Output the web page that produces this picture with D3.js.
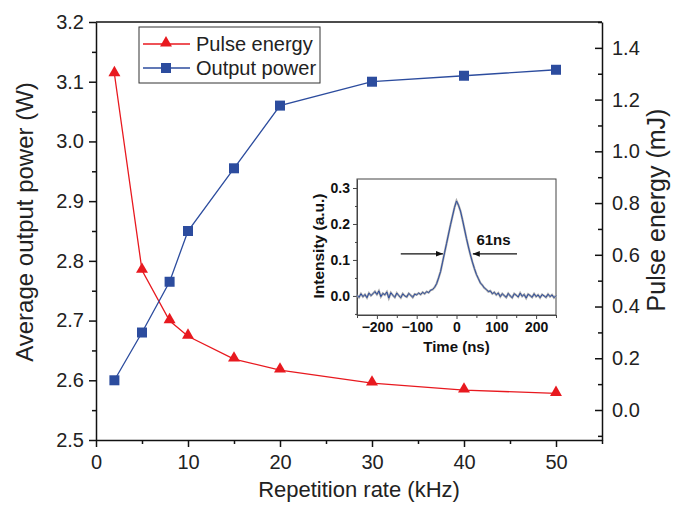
<!DOCTYPE html>
<html>
<head>
<meta charset="utf-8">
<script src="https://cdn.jsdelivr.net/npm/d3@7"></script>
<style>
	body { margin: 0; background: #fff; }
	svg { display: block; font-family: "Liberation Sans", Arial, sans-serif; }
</style>
</head>
<body>
<svg id="graphic" width="674" height="505"></svg>
<script>
// main chart data
var repRate = [2, 5, 8, 10, 15, 20, 30, 40, 50]; // kHz
var outputPower = [2.60, 2.68, 2.765, 2.85, 2.955, 3.06, 3.10, 3.11, 3.12]; // W
var pulseEnergy = [1.30, 0.54, 0.345, 0.285, 0.197, 0.154, 0.104, 0.077, 0.064]; // mJ

var xTicks = [0, 10, 20, 30, 40, 50];
var xMinor = [5, 15, 25, 35, 45, 55];
var leftTicks = [2.5, 2.6, 2.7, 2.8, 2.9, 3.0, 3.1, 3.2];
var leftMinor = [2.55, 2.65, 2.75, 2.85, 2.95, 3.05, 3.15];
var rightTicks = [0.0, 0.2, 0.4, 0.6, 0.8, 1.0, 1.2, 1.4];
var rightMinor = [-0.1, 0.1, 0.3, 0.5, 0.7, 0.9, 1.1, 1.3, 1.5];

// inset: pulse trace
var pulseTime = [-250, -245, -240, -235, -230, -225, -220, -215, -210, -205,
	-200, -195, -190, -185, -180, -175, -170, -165, -160, -155,
	-150, -145, -140, -135, -130, -125, -120, -115, -110, -105,
	-100, -95, -90, -85, -80, -75, -70, -65, -60, -55,
	-50, -45, -40, -35, -30, -25, -20, -15, -10, -5,
	0, 5, 10, 15, 20, 25, 30, 35, 40, 45,
	50, 55, 60, 65, 70, 75, 80, 85, 90, 95,
	100, 105, 110, 115, 120, 125, 130, 135, 140, 145,
	150, 155, 160, 165, 170, 175, 180, 185, 190, 195,
	200, 205, 210, 215, 220, 225, 230, 235, 240, 245, 250];
var pulseIntensity = [0.002, -0.004, 0.006, -0.002, 0.004, -0.005, 0.008, 0.001, 0.006, 0.012,
	0.004, 0.014, -0.002, 0.007, 0.003, 0.011, -0.006, 0.009, 0.002, -0.004,
	0.008, 0.001, -0.005, 0.006, 0.000, -0.003, 0.007, 0.002, -0.004, 0.005,
	0.003, 0.008, 0.004, 0.010, 0.006, 0.012, 0.009, 0.016, 0.018, 0.024,
	0.034, 0.050, 0.068, 0.094, 0.120, 0.146, 0.172, 0.198, 0.222, 0.246,
	0.264, 0.252, 0.236, 0.212, 0.186, 0.160, 0.136, 0.114, 0.094, 0.076,
	0.060, 0.048, 0.036, 0.030, 0.022, 0.018, 0.012, 0.014, 0.006, 0.010,
	0.003, 0.008, -0.002, 0.006, 0.001, -0.004, 0.007, 0.000, -0.005, 0.006,
	0.002, -0.003, 0.008, -0.001, 0.004, -0.006, 0.005, 0.001, -0.004, 0.006,
	-0.002, 0.003, -0.005, 0.004, 0.000, -0.004, 0.005, -0.002, 0.003, -0.005, 0.001];
var insetXTicks = [-200, -100, 0, 100, 200];
var insetXMinor = [-250, -150, -50, 50, 150, 250];
var insetYTicks = [0.0, 0.1, 0.2, 0.3];
var insetYMinor = [-0.05, 0.05, 0.15, 0.25];

var RED = "#e8191f";
var BLUE = "#2c4c9e";

var svg = d3.select("svg");

var plot = { left: 96, right: 602, top: 22, bottom: 440 };

var x = d3.scaleLinear().domain([0, 55]).range([plot.left, plot.right]);
var yL = d3.scaleLinear().domain([2.5, 3.2]).range([plot.bottom, plot.top]);
var yR = d3.scaleLinear().domain([-0.116, 1.5]).range([plot.bottom, plot.top]);

function styleAxis(g, fs) {
	g.selectAll("path.domain").attr("stroke", "#111").attr("stroke-width", 1.5);
	g.selectAll(".tick line").attr("stroke", "#111").attr("stroke-width", 1.5);
	g.selectAll(".tick text").attr("fill", "#222").attr("font-size", fs);
	g.attr("font-family", null);
}

// top frame line
svg.append("line")
	.attr("x1", plot.left).attr("x2", plot.right)
	.attr("y1", plot.top).attr("y2", plot.top)
	.attr("stroke", "#111").attr("stroke-width", 1.5);

// bottom axis
var gx = svg.append("g").attr("transform", "translate(0," + plot.bottom + ")")
	.call(d3.axisBottom(x).tickValues(xTicks).tickSize(7).tickSizeOuter(0).tickPadding(8).tickFormat(d3.format("d")));
styleAxis(gx, 20);
var gxm = svg.append("g").attr("transform", "translate(0," + plot.bottom + ")")
	.call(d3.axisBottom(x).tickValues(xMinor).tickSize(4).tickSizeOuter(0).tickFormat(""));
styleAxis(gxm, 20);
gxm.select("path.domain").remove();

// left axis
var gl = svg.append("g").attr("transform", "translate(" + plot.left + ",0)")
	.call(d3.axisLeft(yL).tickValues(leftTicks).tickSize(7).tickSizeOuter(0).tickPadding(5).tickFormat(d3.format(".1f")));
styleAxis(gl, 20);
var glm = svg.append("g").attr("transform", "translate(" + plot.left + ",0)")
	.call(d3.axisLeft(yL).tickValues(leftMinor).tickSize(4).tickSizeOuter(0).tickFormat(""));
styleAxis(glm, 20);
glm.select("path.domain").remove();

// right axis, ticks point inward
var gr = svg.append("g").attr("transform", "translate(" + plot.right + ",0)")
	.call(d3.axisRight(yR).tickValues(rightTicks).tickSize(-7).tickSizeOuter(0).tickPadding(10).tickFormat(d3.format(".1f")));
styleAxis(gr, 20);
var grm = svg.append("g").attr("transform", "translate(" + plot.right + ",0)")
	.call(d3.axisRight(yR).tickValues(rightMinor).tickSize(-4).tickSizeOuter(0).tickFormat(""));
styleAxis(grm, 20);
grm.select("path.domain").remove();

// axis titles
svg.append("text")
	.attr("transform", "translate(25,222) rotate(-90)")
	.attr("text-anchor", "middle").attr("dy", "0.35em")
	.attr("font-size", 24).attr("fill", "#222")
	.text("Average output power (W)");

svg.append("text")
	.attr("transform", "translate(656,210) rotate(-90)")
	.attr("text-anchor", "middle").attr("dy", "0.35em")
	.attr("font-size", 25).attr("fill", "#222")
	.text("Pulse energy (mJ)");

svg.append("text")
	.attr("x", 359).attr("y", 497)
	.attr("text-anchor", "middle")
	.attr("font-size", 22).attr("fill", "#222")
	.text("Repetition rate (kHz)");

// series
var powerPts = repRate.map(function(r, i) { return [r, outputPower[i]]; });
var energyPts = repRate.map(function(r, i) { return [r, pulseEnergy[i]]; });

var lineP = d3.line().x(function(d) { return x(d[0]); }).y(function(d) { return yL(d[1]); });
var lineE = d3.line().x(function(d) { return x(d[0]); }).y(function(d) { return yR(d[1]); });

svg.append("path").datum(energyPts)
	.attr("d", lineE).attr("fill", "none")
	.attr("stroke", RED).attr("stroke-width", 1.3);

svg.append("path").datum(powerPts)
	.attr("d", lineP).attr("fill", "none")
	.attr("stroke", BLUE).attr("stroke-width", 1.3);

var triSym = d3.symbol().type(d3.symbolTriangle).size(62);

svg.append("g").selectAll("path").data(energyPts)
	.enter().append("path")
		.attr("d", triSym)
		.attr("transform", function(d) { return "translate(" + x(d[0]) + "," + (yR(d[1]) - 1) + ")"; })
		.attr("fill", RED);

svg.append("g").selectAll("rect").data(powerPts)
	.enter().append("rect")
		.attr("x", function(d) { return x(d[0]) - 5; })
		.attr("y", function(d) { return yL(d[1]) - 5; })
		.attr("width", 10).attr("height", 10)
		.attr("fill", BLUE);

// legend
var leg = svg.append("g").attr("transform", "translate(139,27)");
leg.append("rect")
	.attr("width", 181).attr("height", 56)
	.attr("fill", "#fff").attr("stroke", "#333").attr("stroke-width", 1);

var legItems = [
	{ name: "Pulse energy", color: RED, kind: "tri" },
	{ name: "Output power", color: BLUE, kind: "sq" }
];

legItems.forEach(function(it, i) {
	var ly = 17 + i * 24;
	leg.append("line")
		.attr("x1", 4).attr("x2", 51).attr("y1", ly).attr("y2", ly)
		.attr("stroke", it.color).attr("stroke-width", 1.3);
	if (it.kind === "tri") {
		leg.append("path").attr("d", triSym)
			.attr("transform", "translate(27," + (ly - 1) + ")")
			.attr("fill", it.color);
	} else {
		leg.append("rect")
			.attr("x", 22).attr("y", ly - 5).attr("width", 10).attr("height", 10)
			.attr("fill", it.color);
	}
	leg.append("text")
		.attr("x", 57).attr("y", ly).attr("dy", "0.35em")
		.attr("font-size", 20).attr("fill", "#222")
		.text(it.name);
});

// inset
var ins = { left: 357, right: 556, top: 179, bottom: 315 };
var ix = d3.scaleLinear().domain([-250, 250]).range([ins.left, ins.right]);
var iy = d3.scaleLinear().domain([-0.053, 0.325]).range([ins.bottom, ins.top]);

svg.append("rect")
	.attr("x", ins.left).attr("y", ins.top)
	.attr("width", ins.right - ins.left).attr("height", ins.bottom - ins.top)
	.attr("fill", "none").attr("stroke", "#444").attr("stroke-width", 1);

function styleInset(g) {
	g.selectAll("path.domain").attr("stroke", "#444").attr("stroke-width", 1);
	g.selectAll(".tick line").attr("stroke", "#444").attr("stroke-width", 1);
	g.selectAll(".tick text").attr("fill", "#111").attr("font-size", 14).attr("font-weight", "bold");
	g.attr("font-family", null);
}

var ixa = svg.append("g").attr("transform", "translate(0," + ins.bottom + ")")
	.call(d3.axisBottom(ix).tickValues(insetXTicks).tickSize(4).tickSizeOuter(0).tickPadding(3).tickFormat(d3.format("d")));
styleInset(ixa);
var ixm = svg.append("g").attr("transform", "translate(0," + ins.bottom + ")")
	.call(d3.axisBottom(ix).tickValues(insetXMinor).tickSize(3).tickSizeOuter(0).tickFormat(""));
styleInset(ixm);
ixm.select("path.domain").remove();

var iya = svg.append("g").attr("transform", "translate(" + ins.left + ",0)")
	.call(d3.axisLeft(iy).tickValues(insetYTicks).tickSize(4).tickSizeOuter(0).tickPadding(3).tickFormat(d3.format(".1f")));
styleInset(iya);
var iym = svg.append("g").attr("transform", "translate(" + ins.left + ",0)")
	.call(d3.axisLeft(iy).tickValues(insetYMinor).tickSize(2).tickSizeOuter(0).tickFormat(""));
styleInset(iym);
iym.select("path.domain").remove();

svg.append("text")
	.attr("transform", "translate(319,246) rotate(-90)")
	.attr("text-anchor", "middle").attr("dy", "0.35em")
	.attr("font-size", 15.5).attr("font-weight", "bold").attr("fill", "#111")
	.text("Intensity (a.u.)");

svg.append("text")
	.attr("x", ix(0)).attr("y", 352)
	.attr("text-anchor", "middle")
	.attr("font-size", 15).attr("font-weight", "bold").attr("fill", "#111")
	.text("Time (ns)");

var tracePts = pulseTime.map(function(t, i) { return [t, pulseIntensity[i]]; });
var traceLine = d3.line().x(function(d) { return ix(d[0]); }).y(function(d) { return iy(d[1]); });

svg.append("path").datum(tracePts)
	.attr("d", traceLine).attr("fill", "none")
	.attr("stroke", "#aaa").attr("stroke-width", 2.2);
svg.append("path").datum(tracePts)
	.attr("d", traceLine).attr("fill", "none")
	.attr("stroke", BLUE).attr("stroke-width", 1);

// FWHM arrows
var defs = svg.append("defs");
defs.append("marker")
	.attr("id", "arrowhead")
	.attr("viewBox", "0 0 10 10")
	.attr("refX", 10).attr("refY", 5)
	.attr("markerWidth", 7).attr("markerHeight", 7)
	.attr("markerUnits", "userSpaceOnUse")
	.attr("orient", "auto")
	.append("path").attr("d", "M0,1L10,5L0,9Z").attr("fill", "#111");

var fwhmLevel = 0.117;
var arrows = [[-140, -34], [152, 41]];
svg.append("g").selectAll("line").data(arrows)
	.enter().append("line")
		.attr("x1", function(d) { return ix(d[0]); })
		.attr("x2", function(d) { return ix(d[1]); })
		.attr("y1", iy(fwhmLevel)).attr("y2", iy(fwhmLevel))
		.attr("stroke", "#111").attr("stroke-width", 1.2)
		.attr("marker-end", "url(#arrowhead)");

svg.append("text")
	.attr("x", ix(93)).attr("y", iy(0.155)).attr("dy", "0.35em")
	.attr("text-anchor", "middle")
	.attr("font-size", 15).attr("font-weight", "bold").attr("fill", "#111")
	.text("61ns");
</script>
</body>
</html>
